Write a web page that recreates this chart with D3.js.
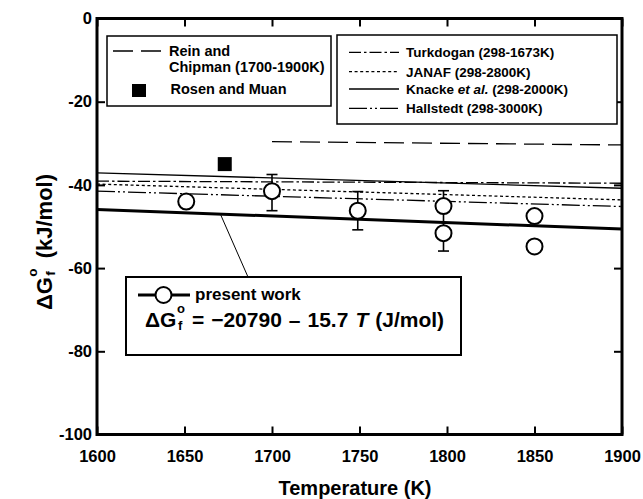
<!DOCTYPE html>
<html>
<head>
<meta charset="utf-8">
<script src="https://cdn.jsdelivr.net/npm/d3@7"></script>
<style>
  html, body { margin: 0; padding: 0; background: #fff; }
  svg { display: block; }
  text { font-family: "Liberation Sans", Arial, Helvetica, sans-serif; font-weight: bold; fill: #000; white-space: pre; }
</style>
</head>
<body>
<svg id="chart" width="643" height="499"></svg>
<script>
// Axis ticks
const xTicks = [1600, 1650, 1700, 1750, 1800, 1850, 1900];
const yTicks = [-100, -80, -60, -40, -20, 0];
const yTickLabels = ["-100", "-80", "-60", "-40", "-20", "0"];

// Present work: measured points (T in K, dG in kJ/mol)
const presentT = [1651, 1700, 1749, 1798, 1798, 1850, 1850];
const presentDG = [-44.0, -41.5, -46.2, -45.1, -51.6, -47.5, -54.8];

// Error bars on present work
const errT = [1700, 1749, 1798];
const errHigh = [-37.5, -41.6, -41.4];
const errLow = [-46.2, -50.8, -55.9];

// Present work fit: dG = -20790 - 15.7 T (J/mol), end points in kJ/mol
const fitT = [1600, 1900];
const fitDG = [-45.91, -50.62];

// Literature lines
const litT = [1600, 1900];
const knacke = [-37.1, -40.8];
const turkdogan = [-39.1, -39.6];
const janaf = [-39.8, -43.6];
const hallstedt = [-41.5, -45.2];
const reinT = [1700, 1900];
const rein = [-29.6, -30.4];

// Rosen and Muan point
const rosenT = [1673];
const rosenDG = [-35.0];

const svg = d3.select("#chart");
const W = 643, H = 499;
const mLeft = 97, mRight = 622, mTop = 18.5, mBottom = 434.5;

const x = d3.scaleLinear().domain([1600, 1900]).range([mLeft, mRight]);
const y = d3.scaleLinear().domain([-100, 0]).range([mBottom, mTop]);

svg.append("rect").attr("width", W).attr("height", H).attr("fill", "#fff");

const styles = {
  rein: "20,8",
  turkdogan: "12,3,2.5,3",
  janaf: "3,2.6",
  knacke: null,
  hallstedt: "18,3,2,3,2,3"
};

const line = d3.line().x(d => x(d[0])).y(d => y(d[1]));

function drawLine(ts, vs, dash, width) {
  const p = svg.append("path")
    .datum(ts.map((t, i) => [t, vs[i]]))
    .attr("d", line)
    .attr("fill", "none")
    .attr("stroke", "#000")
    .attr("stroke-width", width);
  if (dash) p.attr("stroke-dasharray", dash);
  return p;
}

// Literature lines
drawLine(litT, knacke, styles.knacke, 1.3);
drawLine(litT, turkdogan, styles.turkdogan, 1.3);
drawLine(litT, janaf, styles.janaf, 1.3);
drawLine(litT, hallstedt, styles.hallstedt, 1.3);
drawLine(reinT, rein, styles.rein, 1.3);

// Present work fit line
drawLine(fitT, fitDG, null, 3);

// Rosen and Muan square
svg.selectAll("rect.rosen")
  .data(rosenT.map((t, i) => [t, rosenDG[i]]))
  .join("rect")
  .attr("class", "rosen")
  .attr("x", d => x(d[0]) - 7)
  .attr("y", d => y(d[1]) - 7)
  .attr("width", 14)
  .attr("height", 14)
  .attr("fill", "#000");

// Error bars
const errData = errT.map((t, i) => ({ t, hi: errHigh[i], lo: errLow[i] }));
const eb = svg.append("g").attr("stroke", "#000").attr("stroke-width", 1.6);
eb.selectAll("line.v").data(errData).join("line").attr("class", "v")
  .attr("x1", d => x(d.t)).attr("x2", d => x(d.t))
  .attr("y1", d => y(d.hi)).attr("y2", d => y(d.lo));
eb.selectAll("line.h").data(errData).join("line").attr("class", "h")
  .attr("x1", d => x(d.t) - 5.5).attr("x2", d => x(d.t) + 5.5)
  .attr("y1", d => y(d.hi)).attr("y2", d => y(d.hi));
eb.selectAll("line.l").data(errData).join("line").attr("class", "l")
  .attr("x1", d => x(d.t) - 5.5).attr("x2", d => x(d.t) + 5.5)
  .attr("y1", d => y(d.lo)).attr("y2", d => y(d.lo));

// Present work circles
svg.selectAll("circle.pw")
  .data(presentT.map((t, i) => [t, presentDG[i]]))
  .join("circle")
  .attr("class", "pw")
  .attr("cx", d => x(d[0]))
  .attr("cy", d => y(d[1]))
  .attr("r", 8)
  .attr("fill", "#fff")
  .attr("stroke", "#000")
  .attr("stroke-width", 2);

// Axes with inward ticks on all sides
const fmtY = d => yTickLabels[yTicks.indexOf(d)];
const axB = svg.append("g").attr("transform", `translate(0,${mBottom})`)
  .call(d3.axisBottom(x).tickValues(xTicks).tickSizeInner(-8).tickSizeOuter(0).tickPadding(16).tickFormat(d3.format("d")));
const axT = svg.append("g").attr("transform", `translate(0,${mTop})`)
  .call(d3.axisTop(x).tickValues(xTicks).tickSizeInner(-8).tickSizeOuter(0).tickFormat(""));
const axL = svg.append("g").attr("transform", `translate(${mLeft},0)`)
  .call(d3.axisLeft(y).tickValues(yTicks).tickSizeInner(-8).tickSizeOuter(0).tickPadding(5).tickFormat(fmtY));
const axR = svg.append("g").attr("transform", `translate(${mRight},0)`)
  .call(d3.axisRight(y).tickValues(yTicks).tickSizeInner(-8).tickSizeOuter(0).tickFormat(""));

[axB, axT, axL, axR].forEach(a => {
  a.select(".domain").remove();
  a.selectAll(".tick line").attr("stroke", "#000").attr("stroke-width", 2);
  a.selectAll(".tick text")
    .attr("font-family", "Liberation Sans, Arial, sans-serif")
    .attr("font-weight", "bold")
    .attr("font-size", 16.5)
    .attr("fill", "#000");
});

// Frame
svg.append("rect")
  .attr("x", mLeft).attr("y", mTop)
  .attr("width", mRight - mLeft).attr("height", mBottom - mTop)
  .attr("fill", "none").attr("stroke", "#000").attr("stroke-width", 3);

// ΔG with stacked superscript o and subscript f; returns width used
function deltaG(g, size) {
  const t = g.append("text").attr("font-size", size).text("ΔG");
  const w = t.node().getComputedTextLength();
  const s = size * 0.62;
  const o = g.append("text").attr("x", w + 0.5).attr("y", -size * 0.68).attr("font-size", s).text("o");
  g.append("text").attr("x", w + 1.5).attr("y", size * 0.14).attr("font-size", s).text("f");
  return w + 0.5 + o.node().getComputedTextLength();
}

// Axis titles
svg.append("text")
  .attr("x", 355)
  .attr("y", 494.5)
  .attr("text-anchor", "middle")
  .attr("font-size", 20)
  .text("Temperature (K)");

const yt = svg.append("g");
const ytInner = yt.append("g");
const wG = deltaG(ytInner, 22);
const rest = ytInner.append("text").attr("x", wG + 10).attr("font-size", 22).text("(kJ/mol)");
const totalW = wG + 10 + rest.node().getComputedTextLength();
ytInner.attr("transform", `translate(${-totalW / 2},0)`);
yt.attr("transform", `translate(52,242) rotate(-90)`);

// Left legend box
svg.append("rect").attr("x", 107).attr("y", 36).attr("width", 224).attr("height", 70)
  .attr("fill", "#fff").attr("stroke", "#000").attr("stroke-width", 1.5);
svg.append("line").attr("x1", 113).attr("x2", 162).attr("y1", 51).attr("y2", 51)
  .attr("stroke", "#000").attr("stroke-width", 1.3).attr("stroke-dasharray", styles.rein);
svg.append("text").attr("x", 169).attr("y", 56).attr("font-size", 14.5).text("Rein and");
svg.append("text").attr("x", 169).attr("y", 72.3).attr("font-size", 14.5).text("Chipman (1700-1900K)");
svg.append("rect").attr("x", 132).attr("y", 84).attr("width", 14).attr("height", 13).attr("fill", "#000");
svg.append("text").attr("x", 170.5).attr("y", 94).attr("font-size", 14.5).text("Rosen and Muan");

// Right legend box
svg.append("rect").attr("x", 337).attr("y", 35).attr("width", 280).attr("height", 89)
  .attr("fill", "#fff").attr("stroke", "#000").attr("stroke-width", 1.5);
const rightLegend = [
  { dash: styles.turkdogan, y: 57.3, parts: [["Turkdogan (298-1673K)", false]] },
  { dash: styles.janaf, y: 76.7, parts: [["JANAF (298-2800K)", false]] },
  { dash: styles.knacke, y: 94, parts: [["Knacke ", false], ["et al.", true], [" (298-2000K)", false]] },
  { dash: styles.hallstedt, y: 113.3, parts: [["Hallstedt (298-3000K)", false]] }
];
rightLegend.forEach(r => {
  const l = svg.append("line").attr("x1", 349).attr("x2", 399).attr("y1", r.y - 5).attr("y2", r.y - 5)
    .attr("stroke", "#000").attr("stroke-width", 1.3);
  if (r.dash) l.attr("stroke-dasharray", r.dash);
  const t = svg.append("text").attr("x", 406).attr("y", r.y).attr("font-size", 13.5);
  r.parts.forEach(p => {
    const ts = t.append("tspan").text(p[0]);
    if (p[1]) ts.attr("font-style", "italic");
  });
});

// Leader from fit line to present-work box
const leadT = 1670.5;
svg.append("line")
  .attr("x1", x(leadT)).attr("y1", y(fitDG[0] + (fitDG[1] - fitDG[0]) * (leadT - fitT[0]) / (fitT[1] - fitT[0])))
  .attr("x2", 248).attr("y2", 277)
  .attr("stroke", "#000").attr("stroke-width", 1);

// Present work box
svg.append("rect").attr("x", 126).attr("y", 277).attr("width", 335).attr("height", 78)
  .attr("fill", "#fff").attr("stroke", "#000").attr("stroke-width", 2);
svg.append("line").attr("x1", 138).attr("x2", 190).attr("y1", 295).attr("y2", 295)
  .attr("stroke", "#000").attr("stroke-width", 3);
svg.append("circle").attr("cx", 163.5).attr("cy", 295).attr("r", 8)
  .attr("fill", "#fff").attr("stroke", "#000").attr("stroke-width", 2);
svg.append("text").attr("x", 195).attr("y", 299.5).attr("font-size", 17).text("present work");

// Equation line
const eq = svg.append("g").attr("transform", "translate(145,327)");
const wEq = deltaG(eq, 21);
const eqText = eq.append("text").attr("x", wEq).attr("font-size", 21);
const eqWords = [["=", false], ["\u221220790", false], ["\u2013", false], ["15.7", false], ["T", true], ["(J/mol)", false]];
eqWords.forEach(([w, it]) => {
  const ts = eqText.append("tspan").attr("dx", 7).text(w);
  if (it) ts.attr("font-style", "italic");
});
</script>
</body>
</html>
